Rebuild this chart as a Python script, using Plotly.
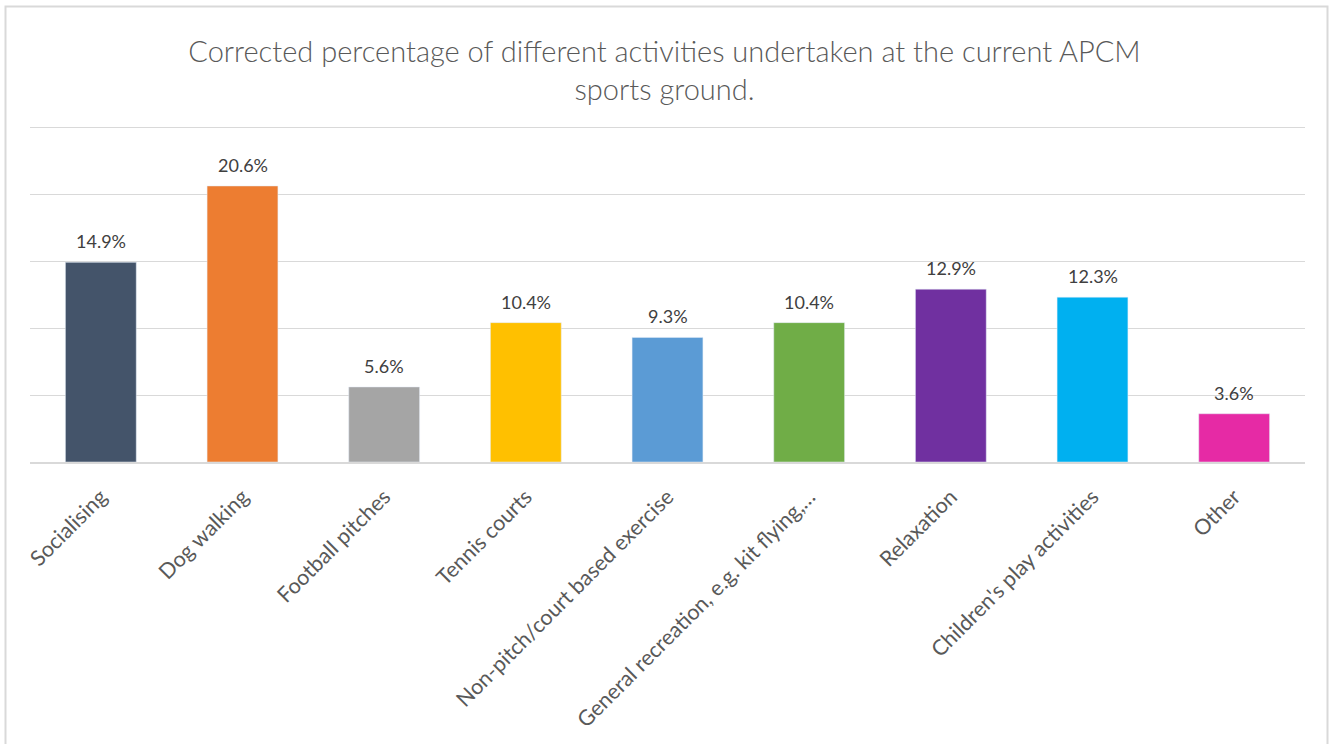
import plotly.graph_objects as go

categories = ["Socialising", "Dog walking", "Football pitches", "Tennis courts",
              "Non-pitch/court based exercise", "General recreation, e.g. kit flying,…",
              "Relaxation", "Children's play activities", "Other"]
values = [14.9, 20.6, 5.6, 10.4, 9.3, 10.4, 12.9, 12.3, 3.6]
labels = [f"{v:.1f}%" for v in values]
colors = ["#44546A", "#ED7D31", "#A5A5A5", "#FFC000", "#5B9BD5",
          "#70AD47", "#7030A0", "#00B0F0", "#E62AA5"]

W, H = 1329, 744
L, R, T, B = 30, 24, 125, 282
pw, ph = W - L - R, H - T - B

fig = go.Figure(go.Bar(
    x=categories, y=values, marker_color=colors,
    hoverinfo="skip",
))

for c, v, t in zip(categories, values, labels):
    fig.add_annotation(x=c, y=v, text=t, showarrow=False, yanchor="bottom",
                       yshift=8, font=dict(size=18, color="#404040", family="Lato"))

fig.update_layout(
    width=W, height=H,
    margin=dict(l=L, r=R, t=T, b=B, autoexpand=False),
    paper_bgcolor="white", plot_bgcolor="white",
    bargap=0.5, showlegend=False,
    font=dict(family="Lato", color="#595959"),
    title=dict(
        text="Corrected percentage of different activities undertaken at the current APCM<br>sports ground.",
        x=0.5, xanchor="center", y=1 - 62 / H, yanchor="middle",
        font=dict(size=29, color="#595959", family="Lato", weight=300),
    ),
    xaxis=dict(
        tickangle=-45, tickfont=dict(size=21.5, color="#595959", family="Lato"),
        showline=True, linecolor="#D9D9D9", linewidth=1.5, ticks="",
        ticklabelstandoff=12, automargin=False,
    ),
    yaxis=dict(
        range=[0, 25.15], tick0=0, dtick=5, showticklabels=False, showgrid=True,
        gridcolor="#D9D9D9", gridwidth=1, zeroline=False, automargin=False,
    ),
    shapes=[dict(
        type="rect", xref="paper", yref="paper",
        x0=(5.5 - L) / pw, x1=(1327.5 - L) / pw,
        y0=(H - 760 - B) / ph, y1=(H - 6.5 - B) / ph,
        line=dict(color="#D9D9D9", width=2), fillcolor="rgba(0,0,0,0)", layer="below",
    )],
)

fig.write_html("out.html", config={"displayModeBar": False},
               post_script="document.body.style.margin='0';document.body.style.overflow='hidden';")
